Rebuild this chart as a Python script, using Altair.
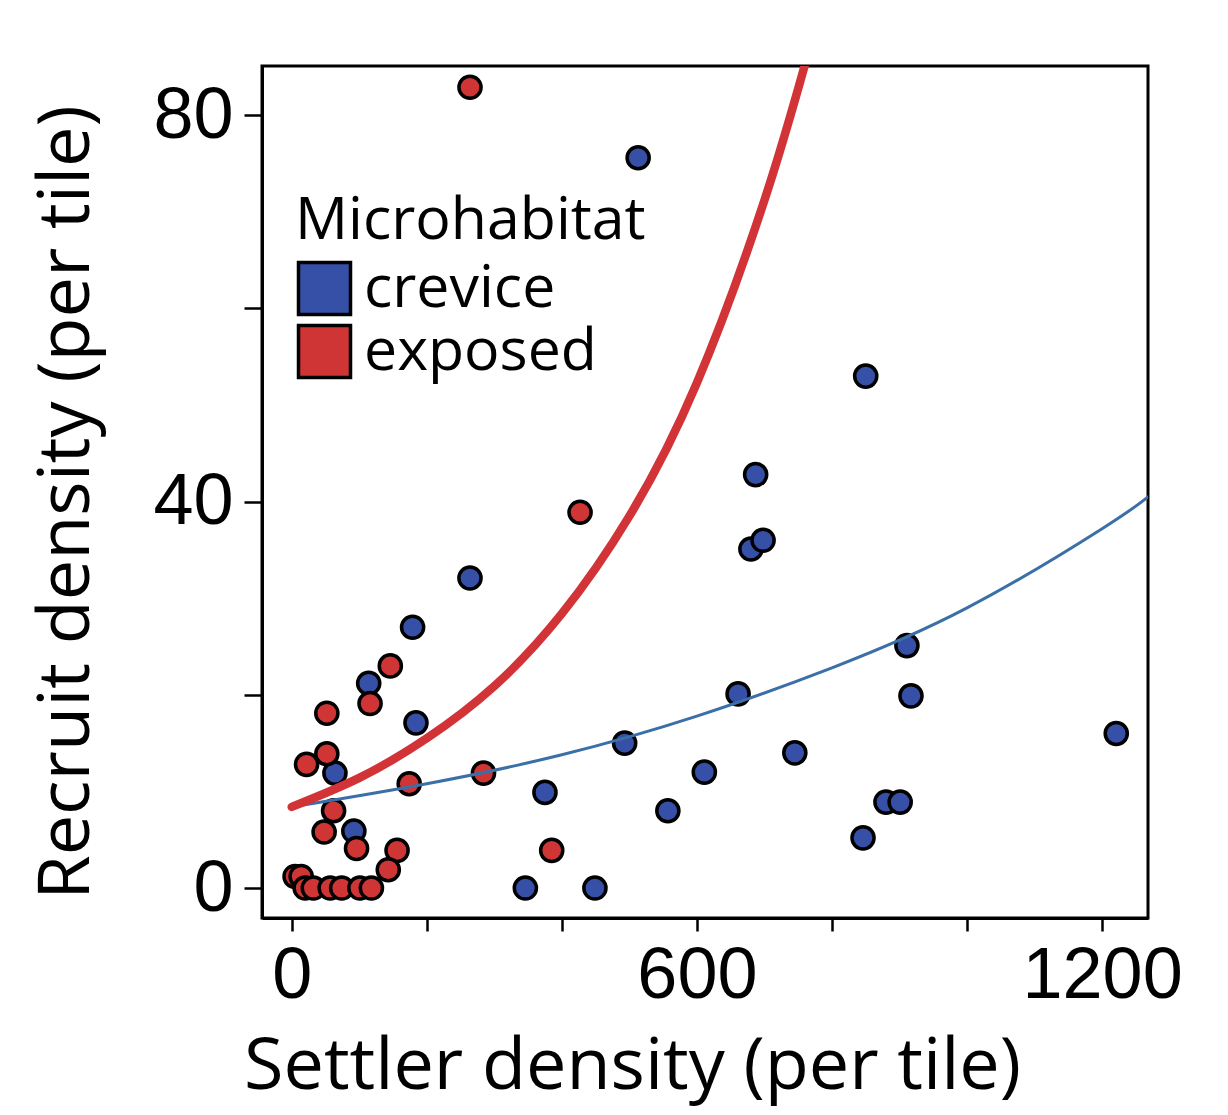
import altair as alt
import pandas as pd

# ---- data ----
crevice_x = [114, 184, 64, 92, 264, 179, 513, 850, 687, 680, 698, 911, 917, 661, 1221,
             493, 611, 745, 375, 557, 346, 449, 880, 901, 846]
crevice_y = [21.2, 17.1, 11.9, 5.9, 32.1, 27.0, 75.6, 53.0, 42.8, 35.1, 36.0, 25.1, 19.9,
             20.1, 16.0, 15.0, 12.0, 14.0, 9.9, 8.0, 0, 0, 8.9, 8.9, 5.2]
exposed_x = [146, 116, 52, 52, 22, 174, 284, 62, 48, 96, 156, 143, 5, 14, 20, 32, 57, 74,
             101, 118, 264, 427, 385]
exposed_y = [23.0, 19.1, 18.1, 13.9, 12.8, 10.8, 11.9, 8.0, 5.8, 4.1, 3.9, 1.9, 1.2, 1.2,
             0, 0, 0, 0, 0, 0, 82.9, 38.9, 3.9]

# fitted curves
crev_fit_x = [0, 200, 400, 600, 800, 1000, 1200, 1268]
crev_fit_y = [8.4, 10.8, 13.8, 17.8, 22.8, 29.0, 37.2, 40.5]
exp_fit_x = [0, 100, 200, 300, 400, 500, 600, 700, 763]
exp_fit_y = [8.4, 11.4, 15.5, 20.9, 28.4, 38.5, 52.3, 71.2, 86.0]

habitats = ["crevice", "exposed"]
point_colors = ["#3550A6", "#D03535"]
outline_colors = ["#000000", "#000000"]
line_colors = ["#3A6FA8", "#D23337"]
line_widths = [3, 8.5]

pts = pd.DataFrame({
    "settler": crevice_x + exposed_x,
    "recruit": crevice_y + exposed_y,
    "Microhabitat": ["crevice"] * len(crevice_x) + ["exposed"] * len(exposed_x),
})
crev_fit = pd.DataFrame({"settler": crev_fit_x, "recruit": crev_fit_y})
exp_fit = pd.DataFrame({"settler": exp_fit_x, "recruit": exp_fit_y})

TICK_FONT = "Liberation Sans"
TITLE_FONT = "Open Sans"

xscale = alt.Scale(domain=[-44, 1268], nice=False, zero=False)
yscale = alt.Scale(domain=[-3.1, 85.1], nice=False, zero=False)

xaxis = alt.Axis(
    values=[0, 200, 400, 600, 800, 1000, 1200],
    format="d",
    labelExpr="datum.value % 600 == 0 ? datum.label : ''",
    labelFont=TICK_FONT, labelFontSize=72, labelLimit=0,
    title="Settler density (per tile)",
    titleX=370, titleY=170, titleBaseline="alphabetic", titleAlign="center",
    titleLimit=0,
    tickSize=13, labelPadding=9, grid=False,
)
yaxis = alt.Axis(
    values=[0, 20, 40, 60, 80],
    format="d",
    labelExpr="datum.value % 40 == 0 ? datum.label : ''",
    labelFont=TICK_FONT, labelFontSize=72, labelLimit=0,
    title="Recruit density (per tile)",
    titleX=-174, titleY=436, titleBaseline="alphabetic", titleAlign="center",
    titleAngle=-90, titleLimit=0,
    tickSize=18, labelPadding=11, grid=False,
)

legend = alt.Legend(
    orient="none", legendX=33, legendY=126, padding=0,
    title="Microhabitat", titleFont=TITLE_FONT, titleFontSize=59,
    titleFontWeight="normal", titleColor="black", titlePadding=8,
    titleLimit=0,
    labelFont=TITLE_FONT, labelFontSize=59, labelColor="black",
    labelOffset=10, rowPadding=-4, labelLimit=0,
    symbolType="square", symbolSize=2704, symbolStrokeColor="black",
    symbolStrokeWidth=3.5, symbolOpacity=1,
)

points = alt.Chart(pts).mark_circle(
    size=490, opacity=1, strokeWidth=3.5
).encode(
    x=alt.X("settler:Q", scale=xscale, axis=xaxis),
    y=alt.Y("recruit:Q", scale=yscale, axis=yaxis),
    fill=alt.Fill("Microhabitat:N",
                  scale=alt.Scale(domain=habitats, range=point_colors), legend=legend),
    stroke=alt.Stroke("Microhabitat:N",
                      scale=alt.Scale(domain=habitats, range=outline_colors), legend=legend),
)

crev_line = alt.Chart(crev_fit).mark_line(
    interpolate="natural", clip=True, strokeCap="round",
    stroke=line_colors[0], strokeWidth=line_widths[0],
).encode(
    x=alt.X("settler:Q", scale=xscale),
    y=alt.Y("recruit:Q", scale=yscale),
)
exp_line = alt.Chart(exp_fit).mark_line(
    interpolate="natural", clip=True, strokeCap="round",
    stroke=line_colors[1], strokeWidth=line_widths[1],
).encode(
    x=alt.X("settler:Q", scale=xscale),
    y=alt.Y("recruit:Q", scale=yscale),
)

chart = alt.layer(points, crev_line, exp_line).properties(
    width=886, height=852,
    autosize=alt.AutoSizeParams(type="none"),
    padding={"left": 254, "top": 58, "right": 60, "bottom": 195},
    background="white",
).configure_view(
    stroke="black", strokeWidth=3
).configure_axis(
    domainColor="black", domainWidth=3,
    tickColor="black", tickWidth=2.5,
    labelFont=TICK_FONT, labelFontSize=72, labelColor="black",
    titleFont=TITLE_FONT, titleFontSize=72, titleFontWeight="normal", titleColor="black",
)

chart.save("out.html", embed_options={"renderer": "svg", "actions": False})
